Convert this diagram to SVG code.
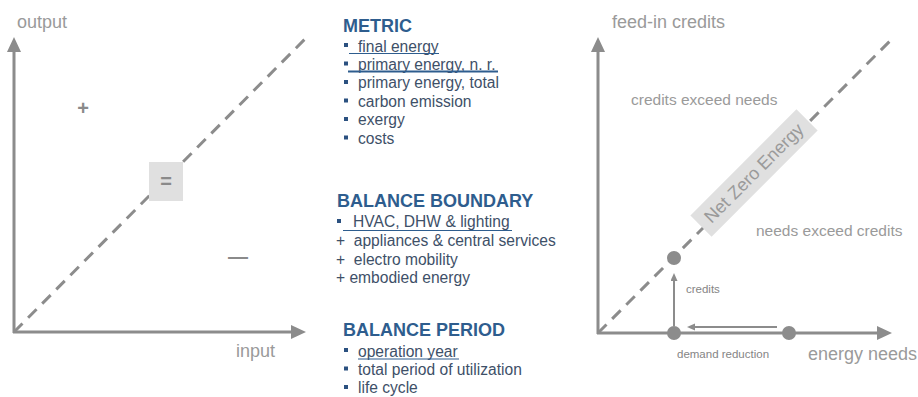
<svg xmlns="http://www.w3.org/2000/svg" width="918" height="397" viewBox="0 0 918 397">
<style>
text{font-family:"Liberation Sans",Arial,sans-serif}
.axis{stroke:#8c8c8c;stroke-width:3;fill:none}
.dash{stroke:#8c8c8c;stroke-width:3;stroke-dasharray:12 8;fill:none}
.thin{stroke:#8c8c8c;stroke-width:2;fill:none}
.lbl{fill:#9a9a9a;font-size:18px}
.zone{fill:#9a9a9a;font-size:15.5px}
.small{fill:#858585;font-size:11.5px}
.sym{fill:#8a8a8a;font-weight:bold}
.box{fill:#e0e0e0}
.title{fill:#2e5d8e;font-size:18px;font-weight:bold}
.item{fill:#3e5068;font-size:15.6px}
.bul{fill:#2b5180}
.ul{stroke:#2e5d8e;fill:none}
</style>
<defs>
<marker id="bigArrow" markerUnits="userSpaceOnUse" markerWidth="16" markerHeight="15" refX="3" refY="7" orient="auto">
<path d="M0,0 L15,7 L0,14 z" fill="#8c8c8c"/>
</marker>
<marker id="smallArrow" markerUnits="userSpaceOnUse" markerWidth="9" markerHeight="8" refX="2" refY="3.5" orient="auto">
<path d="M0,0 L8,3.5 L0,7 z" fill="#8c8c8c"/>
</marker>
</defs>

<g id="connectors">
<line class="dash" x1="14" y1="332" x2="306" y2="38"/>
<line class="axis" x1="14" y1="333" x2="14" y2="49" marker-end="url(#bigArrow)"/>
<line class="axis" x1="13" y1="332" x2="294" y2="332" marker-end="url(#bigArrow)"/>
<line class="dash" x1="598" y1="333" x2="893" y2="38"/>
<line class="axis" x1="598" y1="334" x2="598" y2="49" marker-end="url(#bigArrow)"/>
<line class="axis" x1="597" y1="333" x2="880" y2="333" marker-end="url(#bigArrow)"/>
<line class="thin" x1="674" y1="326" x2="674" y2="279" marker-end="url(#smallArrow)"/>
<line class="thin" x1="777" y1="327" x2="693" y2="327" marker-end="url(#smallArrow)"/>
</g>

<g id="left-chart">
<text class="lbl" x="17" y="28">output</text>
<text class="lbl" x="236" y="357">input</text>
<text class="sym" x="83" y="115" font-size="20" text-anchor="middle">+</text>
<g id="equal-node">
<rect class="box" x="149" y="162" width="34" height="39"/>
<text class="sym" x="166" y="188" font-size="20" text-anchor="middle">=</text>
</g>
<text class="sym" x="238" y="263" font-size="20" text-anchor="middle" font-weight="normal">—</text>
</g>

<g id="metric">
<text class="title" x="343" y="32">METRIC</text>
<rect class="bul" x="344" y="43" width="4" height="4"/>
<text class="item" x="358" y="51.5">final energy</text>
<line class="ul" x1="349" y1="53.5" x2="439" y2="53.5" stroke-width="1.2"/>
<rect class="bul" x="344" y="61.5" width="4" height="4"/>
<text class="item" x="358" y="69.9">primary energy, n. r.</text>
<line class="ul" x1="348" y1="71.5" x2="498" y2="71.5" stroke-width="2"/>
<rect class="bul" x="344" y="80" width="4" height="4"/>
<text class="item" x="358" y="88.3">primary energy, total</text>
<rect class="bul" x="344" y="98.5" width="4" height="4"/>
<text class="item" x="358" y="106.7">carbon emission</text>
<rect class="bul" x="344" y="117" width="4" height="4"/>
<text class="item" x="358" y="125.1">exergy</text>
<rect class="bul" x="344" y="135.5" width="4" height="4"/>
<text class="item" x="358" y="143.5">costs</text>
</g>

<g id="balance-boundary">
<text class="title" x="337" y="207">BALANCE BOUNDARY</text>
<rect class="bul" x="337" y="219" width="4" height="4"/>
<text class="item" x="353" y="227">HVAC, DHW &amp; lighting</text>
<line class="ul" x1="343" y1="230.5" x2="512" y2="230.5" stroke-width="1.2"/>
<text class="item" x="336" y="246" xml:space="preserve">+  appliances &amp; central services</text>
<text class="item" x="336" y="264.5" xml:space="preserve">+  electro mobility</text>
<text class="item" x="336" y="283" xml:space="preserve">+ embodied energy</text>
</g>

<g id="balance-period">
<text class="title" x="343" y="336">BALANCE PERIOD</text>
<rect class="bul" x="344" y="348" width="4" height="4"/>
<text class="item" x="358" y="356.5">operation year</text>
<line class="ul" x1="358" y1="359" x2="459" y2="359" stroke-width="1.2"/>
<rect class="bul" x="344" y="366.5" width="4" height="4"/>
<text class="item" x="358" y="375">total period of utilization</text>
<rect class="bul" x="344" y="385" width="4" height="4"/>
<text class="item" x="358" y="393.3">life cycle</text>
</g>

<g id="right-chart">
<text class="lbl" x="612" y="28">feed-in credits</text>
<text class="lbl" x="808" y="360">energy needs</text>
<text class="zone" x="631" y="105">credits exceed needs</text>
<text class="zone" x="756" y="236">needs exceed credits</text>
<g id="net-zero" transform="translate(754,173) rotate(-45)">
<rect class="box" x="-75" y="-15" width="150" height="30"/>
<text x="0" y="6" text-anchor="middle" font-size="18" fill="#9a9a9a">Net Zero Energy</text>
</g>
<g id="point-target"><circle cx="674" cy="258" r="7" fill="#8c8c8c"/></g>
<g id="point-reduced"><circle cx="674" cy="333" r="7" fill="#8c8c8c"/></g>
<g id="point-start"><circle cx="789" cy="333" r="7" fill="#8c8c8c"/></g>
<text class="small" x="686" y="293">credits</text>
<text class="small" x="677" y="358">demand reduction</text>
</g>
</svg>
